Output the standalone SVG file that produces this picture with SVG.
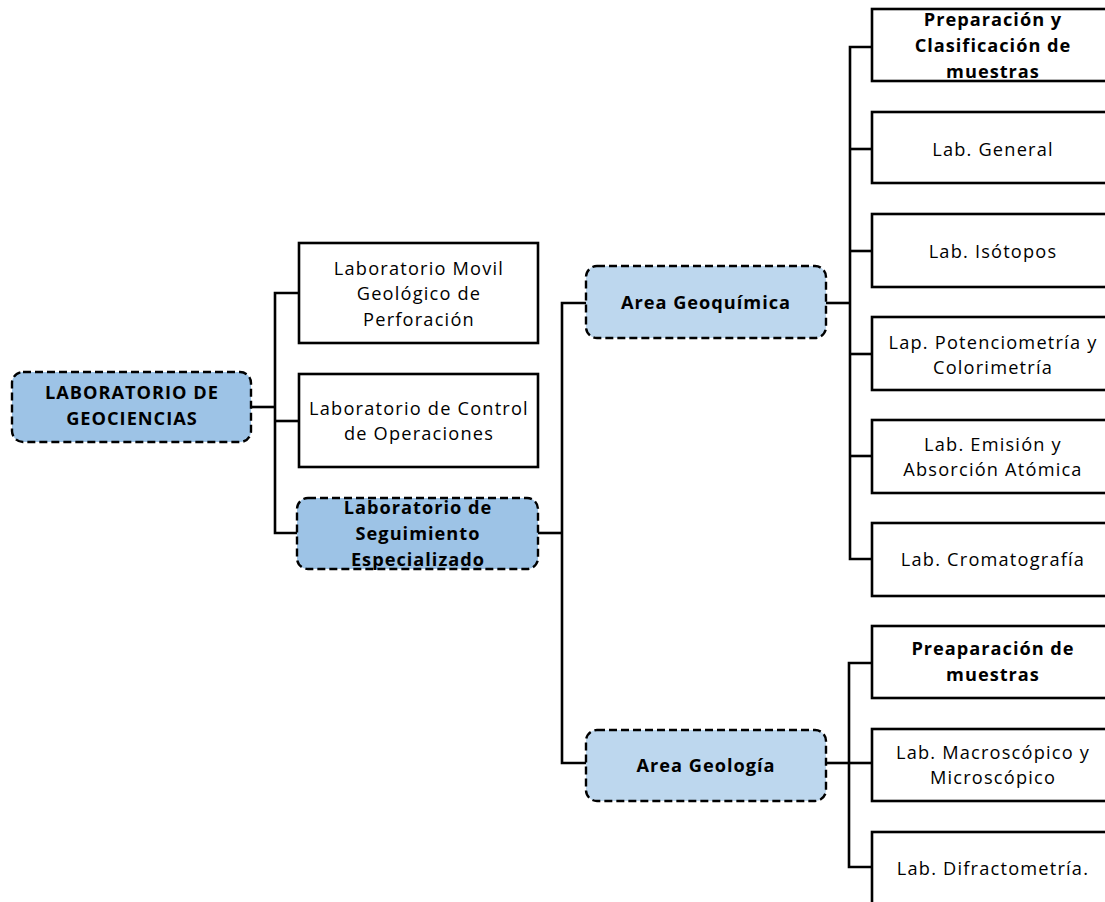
<svg xmlns="http://www.w3.org/2000/svg" width="1105" height="902" viewBox="0 0 1105 902">
  <style>
    .box { fill: #ffffff; stroke: #000000; stroke-width: 2.6; }
    .dash-dark { fill: #9dc3e6; stroke: #000000; stroke-width: 2.4; stroke-dasharray: 8 4; }
    .dash-light { fill: #bdd7ee; stroke: #000000; stroke-width: 2.4; stroke-dasharray: 8 4; }
    .lbl { font-family: "Open Sans", "Liberation Sans", sans-serif; font-size: 18.2px; letter-spacing: 1.2px; fill: #000000; text-anchor: middle; }
    .bold { font-weight: bold; letter-spacing: 1px; }
    .conn { fill: none; stroke: #000000; stroke-width: 2.6; }
  </style>
  <rect width="1105" height="902" fill="#ffffff"/>

  <!-- connectors -->
  <g id="connectors" class="conn">
    <!-- root to first level -->
    <polyline points="251,407 275,407"/>
    <polyline points="299,293 275,293 275,533 297,533"/>
    <polyline points="275,421 299,421"/>
    <!-- seguimiento to areas -->
    <polyline points="538,533 562,533"/>
    <polyline points="586,303 562,303 562,763 586,763"/>
    <!-- area geoquimica to labs -->
    <polyline points="826,303 850,303"/>
    <polyline points="872,47 850,47 850,559 872,559"/>
    <polyline points="850,149 872,149"/>
    <polyline points="850,251 872,251"/>
    <polyline points="850,354 872,354"/>
    <polyline points="850,456 872,456"/>
    <!-- area geologia to labs -->
    <polyline points="826,763 849,763"/>
    <polyline points="872,663 849,663 849,867 872,867"/>
    <polyline points="849,763 872,763"/>
  </g>

  <!-- root -->
  <g id="n-root">
    <rect class="dash-dark" x="12" y="372" width="239" height="70" rx="11"/>
    <text class="lbl bold" x="132" y="399">LABORATORIO DE</text>
    <text class="lbl bold" x="132" y="425">GEOCIENCIAS</text>
  </g>

  <!-- first level -->
  <g id="n-movil">
    <rect class="box" x="299" y="243" width="239" height="100"/>
    <text class="lbl" x="419" y="275">Laboratorio Movil</text>
    <text class="lbl" x="419" y="300">Geológico de</text>
    <text class="lbl" x="419" y="326">Perforación</text>
  </g>
  <g id="n-control">
    <rect class="box" x="299" y="374" width="239" height="93"/>
    <text class="lbl" x="419" y="415">Laboratorio de Control</text>
    <text class="lbl" x="419" y="440">de Operaciones</text>
  </g>
  <g id="n-seguimiento">
    <rect class="dash-dark" x="297" y="498" width="241" height="71" rx="11"/>
    <text class="lbl bold" x="418" y="514">Laboratorio de</text>
    <text class="lbl bold" x="418" y="540">Seguimiento</text>
    <text class="lbl bold" x="418" y="566">Especializado</text>
  </g>

  <!-- areas -->
  <g id="n-geoquimica">
    <rect class="dash-light" x="586" y="266" width="240" height="72" rx="11"/>
    <text class="lbl bold" x="706" y="309">Area Geoquímica</text>
  </g>
  <g id="n-geologia">
    <rect class="dash-light" x="586" y="730" width="240" height="71" rx="11"/>
    <text class="lbl bold" x="706" y="772">Area Geología</text>
  </g>

  <!-- geoquimica labs -->
  <g id="n-preparacion">
    <rect class="box" x="872" y="9" width="240" height="72"/>
    <text class="lbl bold" x="993" y="26">Preparación y</text>
    <text class="lbl bold" x="993" y="52">Clasificación de</text>
    <text class="lbl bold" x="993" y="78">muestras</text>
  </g>
  <g id="n-general">
    <rect class="box" x="872" y="112" width="240" height="71"/>
    <text class="lbl" x="993" y="156">Lab. General</text>
  </g>
  <g id="n-isotopos">
    <rect class="box" x="872" y="214" width="240" height="73"/>
    <text class="lbl" x="993" y="258">Lab. Isótopos</text>
  </g>
  <g id="n-potenciometria">
    <rect class="box" x="872" y="317" width="240" height="73"/>
    <text class="lbl" x="993" y="349">Lap. Potenciometría y</text>
    <text class="lbl" x="993" y="374">Colorimetría</text>
  </g>
  <g id="n-emision">
    <rect class="box" x="872" y="420" width="240" height="73"/>
    <text class="lbl" x="993" y="451">Lab. Emisión y</text>
    <text class="lbl" x="993" y="476">Absorción Atómica</text>
  </g>
  <g id="n-cromatografia">
    <rect class="box" x="872" y="523" width="240" height="73"/>
    <text class="lbl" x="993" y="566">Lab. Cromatografía</text>
  </g>

  <!-- geologia labs -->
  <g id="n-preaparacion">
    <rect class="box" x="872" y="626" width="240" height="72"/>
    <text class="lbl bold" x="993" y="655">Preaparación de</text>
    <text class="lbl bold" x="993" y="681">muestras</text>
  </g>
  <g id="n-macroscopico">
    <rect class="box" x="872" y="729" width="240" height="72"/>
    <text class="lbl" x="993" y="759">Lab. Macroscópico y</text>
    <text class="lbl" x="993" y="784">Microscópico</text>
  </g>
  <g id="n-difractometria">
    <rect class="box" x="872" y="832" width="240" height="90"/>
    <text class="lbl" x="993" y="875">Lab. Difractometría.</text>
  </g>
</svg>
